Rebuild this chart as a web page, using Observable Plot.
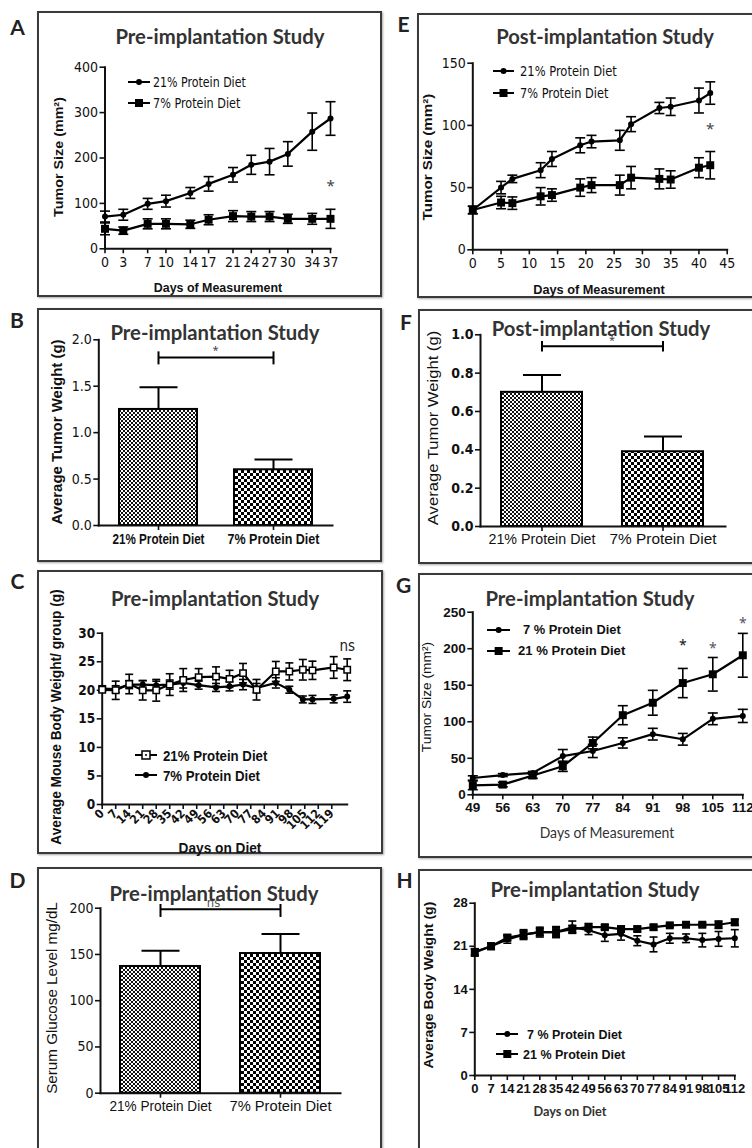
<!DOCTYPE html>
<html><head><meta charset="utf-8">
<script src="https://cdn.jsdelivr.net/npm/d3@7"></script>
<script src="https://cdn.jsdelivr.net/npm/@observablehq/plot@0.6"></script>
<style>
body{margin:0;background:#fff;}
#page{position:relative;width:752px;height:1148px;overflow:hidden;background:#fff;}
.box{position:absolute;border:2px solid #3a3a3a;box-shadow:1px 1px 2px rgba(0,0,0,.35);box-sizing:border-box;}
.t{position:absolute;white-space:nowrap;line-height:1;color:#111;}
svg.plot{position:absolute;overflow:visible;}
</style></head><body>
<svg width="0" height="0" style="position:absolute">
<defs>
<pattern id="fine" width="4" height="4" patternUnits="userSpaceOnUse"><rect width="4" height="4" fill="#fff"/><rect width="2" height="2" fill="#111"/><rect x="2" y="2" width="2" height="2" fill="#111"/></pattern>
<pattern id="coarse" width="6" height="6" patternUnits="userSpaceOnUse"><rect width="6" height="6" fill="#fff"/><rect width="3" height="3" fill="#000"/><rect x="3" y="3" width="3" height="3" fill="#000"/></pattern>
</defs></svg>
<div id="page"></div>
<script>
// ---------------- DATA ----------------
const diets = ["21% Protein Diet", "7% Protein Diet"];
const barPatterns = ["url(#fine)", "url(#coarse)"];

// A: Pre-implantation tumor size
const A_days = [0,3,7,10,14,17,21,24,27,30,34,37];
const A_21 = [71,75,99,105,123,143,163,185,192,209,258,287];
const A_21_err = [12,12,12,13,12,16,16,21,29,27,41,37];
const A_7 = [44,40,55,55,54,64,72,71,71,66,66,66];
const A_7_err = [13,8,11,11,9,11,12,11,11,10,12,21];
const A_yTicks = [0,100,200,300,400];
const A_star = [{x:37, y:139, t:"*"}];

// E: Post-implantation tumor size
const E_days = [0,5,7,12,14,19,21,26,28,33,35,40,42];
const E_21 = [32,50,57,64,73,84,87,88,101,114,115,120,126];
const E_21_err = [3,5,3,6,6,6,5,8,6,4.5,7,10,9];
const E_7 = [32,38,37.5,43,44,50,52,52,58,57,56.5,66,68];
const E_7_err = [3,5,5,7,5,7,6,8,9,8,7,8,11];
const E_yTicks = [0,50,100,150];
const E_xTicks = [0,5,10,15,20,25,30,35,40,45];
const E_star = [{x:42, y:97, t:"*"}];

// B: Pre-implantation tumor weight
const B_mean = [1.25, 0.60];
const B_err = [0.24, 0.11];
const B_yTicks = [0,0.5,1.0,1.5,2.0];
const B_bracket = {y: 1.81, y1: 1.73, y2: 1.87, label: "*"};

// F: Post-implantation tumor weight
const F_mean = [0.70, 0.39];
const F_err = [0.09, 0.08];
const F_yTicks = [0,0.2,0.4,0.6,0.8,1.0];
const F_bracket = {y: 0.94, y1: 0.91, y2: 0.965, label: "*"};

// C: body weight
const C_days = [0,7,14,21,28,35,42,50,59,66,73,80,90,97,104,109,120,127];
const C_21 = [20.1,20.0,21.1,20.0,20.0,21.0,21.8,22.3,22.4,22.0,23.0,20.1,23.3,23.3,23.6,23.5,24.0,23.6];
const C_21_err = [0.3,1.6,1.7,1.7,1.9,1.9,2.0,1.5,1.7,1.5,1.7,1.8,1.75,1.5,1.8,1.6,1.9,1.9];
const C_7 = [20.3,20.2,21.0,21.0,20.9,21.0,21.3,20.9,20.5,20.7,21.0,20.4,21.3,20.1,18.4,18.4,18.5,18.9];
const C_7_err = [0.5,0.6,0.7,0.7,0.7,0.8,0.9,0.7,0.7,0.8,0.9,0.8,0.9,0.6,0.6,0.7,0.7,1.0];
const C_yTicks = [0,5,10,15,20,25,30];
const C_xTicks = [0,7,14,21,28,35,42,49,56,63,70,77,84,91,98,105,112,119];
const C_ns = [{x:127, y:27.8, t:"ns"}];

// G: Pre-implantation tumor size (late)
const G_days = [49,56,63,70,77,84,91,98,105,112];
const G_7 = [23,27,30,53,60,71,83,76,104,108];
const G_7_err = [3,2,2,9,9,7,8,8,8,9];
const G_21 = [13,14,26.5,39,71,109,126,153,165,191];
const G_21_err = [6,3,4,7,8,13,17,20,23,30];
const G_yTicks = [0,50,100,150,200,250];
const G_stars = [{x:98,y:204,t:"*",c:"#111"},{x:105,y:200,t:"*",c:"#556"},{x:112,y:234,t:"*",c:"#556"}];

// D: serum glucose
const D_mean = [137, 151];
const D_err = [17, 21];
const D_yTicks = [0,50,100,150,200];
const D_bracket = {y: 199, y1: 190, y2: 204, label: "ns"};

// H: body weight
const H_days = [0,7,14,21,28,35,42,49,56,63,70,77,84,91,98,105,112];
const H_7 = [20.1,21.0,22.1,22.9,23.3,23.3,24.1,23.6,22.8,23.0,21.9,21.3,22.3,22.3,22.0,22.2,22.3];
const H_7_err = [0.5,0.5,0.6,0.6,0.6,0.7,1.0,0.7,1.0,1.0,0.8,1.2,0.8,0.7,1.1,1.2,1.4];
const H_21 = [20.0,21.0,22.4,22.9,23.3,23.3,23.8,24.1,24.1,23.8,23.8,24.1,24.4,24.5,24.5,24.5,24.9];
const H_21_err = [0.6,0.5,0.5,0.8,0.8,0.9,0.6,0.6,0.4,0.4,0.4,0.4,0.3,0.3,0.3,0.6,0.5];
const H_yTicks = [0,7,14,21,28];

// ---------------- HELPERS ----------------
const NARROW = "'Liberation Sans Narrow','Arial Narrow','DejaVu Sans Condensed',sans-serif";
const ARIAL = "'Liberation Sans',Arial,sans-serif";
const CAL = "Lato,'Open Sans',sans-serif";
const page = document.getElementById("page");

function box(x, y, w, h) {
  const d = document.createElement("div");
  d.className = "box";
  Object.assign(d.style, {left: x + "px", top: y + "px", width: w + "px", height: h + "px"});
  page.appendChild(d);
}
// text centred at (x,y) (or left-aligned at x); tw = target width in px (text is squeezed/stretched to it)
function txt(x, y, s, css, align = "center", rot = false, tw = null) {
  const d = document.createElement("div");
  d.className = "t";
  d.textContent = s;
  Object.assign(d.style, {left: x + "px", top: y + "px"}, css);
  page.appendChild(d);
  let sc = "";
  if (tw) sc = ` scaleX(${(tw / d.offsetWidth).toFixed(4)})`;
  let tf = align === "center" ? "translate(-50%,-50%)" : "translate(0,-50%)";
  if (rot) tf += " rotate(-90deg)";
  d.style.transformOrigin = align === "center" ? "50% 50%" : "0 50%";
  d.style.transform = tf + sc;
}
function mount(L, T, svg) {
  svg.classList.add("plot");
  svg.style.left = L + "px";
  svg.style.top = T + "px";
  page.appendChild(svg);
  return svg;
}
function fitTicks(svg, axis, tw) {
  svg.querySelectorAll(`g[aria-label="${axis}-axis tick label"] text`).forEach(t => {
    t.setAttribute("textLength", tw);
    t.setAttribute("lengthAdjust", "spacingAndGlyphs");
  });
}
const ns = "http://www.w3.org/2000/svg";
function legend(x1, x2, y, tx, label, sym, css, tw) {
  const s = document.createElementNS(ns, "svg");
  const w = x2 - x1;
  s.setAttribute("width", w); s.setAttribute("height", 14);
  s.style.position = "absolute"; s.style.left = x1 + "px"; s.style.top = (y - 7) + "px";
  s.innerHTML = `<line x1="0" x2="${w}" y1="7" y2="7" stroke="#000" stroke-width="2"/>` +
    (sym === "circle" ? `<circle cx="${w/2}" cy="7" r="3" fill="#000"/>` :
     sym === "open" ? `<rect x="${w/2-4}" y="3" width="8" height="8" fill="#fff" stroke="#000" stroke-width="1.5"/><circle cx="${w/2}" cy="7" r="1" fill="#000"/>` :
     `<rect x="${w/2-4}" y="3" width="8" height="8" fill="#000"/>`);
  page.appendChild(s);
  txt(tx, y, label, css, "left", false, tw);
}
const cap = {draw(ctx, size) { const r = Math.sqrt(size / Math.PI); ctx.moveTo(-r, 0); ctx.lineTo(r, 0); }};

function series(xs, ys, es, sym, opt = {}) {
  const data = xs.map((x, i) => ({x, y: ys[i], lo: ys[i] - es[i], hi: ys[i] + es[i]}));
  const capR = opt.capR ?? 5;
  const r = opt.r ?? (sym === "circle" ? 3 : 4.5);
  return [
    Plot.ruleX(data, {x: "x", y1: "lo", y2: "hi", stroke: "#000", strokeWidth: 1.6}),
    Plot.dot(data, {x: "x", y: "lo", symbol: cap, r: capR, stroke: "#000", fill: "none", strokeWidth: 1.6}),
    Plot.dot(data, {x: "x", y: "hi", symbol: cap, r: capR, stroke: "#000", fill: "none", strokeWidth: 1.6}),
    Plot.line(data, {x: "x", y: "y", stroke: "#000", strokeWidth: opt.lw ?? 2.2}),
    opt.open
      ? Plot.dot(data, {x: "x", y: "y", symbol: "square", r, fill: "#fff", stroke: "#000", strokeWidth: 1.5})
      : Plot.dot(data, {x: "x", y: "y", symbol: sym, r, fill: "#000", stroke: "none"})
  ];
}
function axesMarks(o) {
  const xo = {ticks: o.xt, tickSize: 5, tickPadding: o.xPad ?? 3, label: null, fontSize: o.fsX ?? o.fs, fontFamily: o.fontX ?? o.font, fontWeight: o.wX ?? o.w, strokeWidth: 1.6};
  if (o.xfmt) xo.tickFormat = o.xfmt;
  if (o.rot) xo.tickRotate = o.rot;
  return [
    Plot.axisY({ticks: o.yt, tickSize: 5, tickPadding: 2, label: null, tickFormat: o.yfmt ?? (d => d), fontSize: o.fs, fontFamily: o.font, fontWeight: o.w, strokeWidth: 1.6}),
    Plot.axisX(xo),
    Plot.frame({anchor: "left", strokeWidth: 2}),
    Plot.frame({anchor: "bottom", strokeWidth: 2})
  ];
}
function base(L, T, W, H, x0, x1, yTop, yBot) {
  return {width: W, height: H, marginLeft: x0 - L, marginRight: L + W - x1, marginTop: yTop - T, marginBottom: T + H - yBot,
    style: {background: "transparent", color: "#111", overflow: "visible"}};
}
function barMarks(mean, err, br, capR) {
  const data = diets.map((d, i) => ({d, v: mean[i], hi: mean[i] + err[i], p: barPatterns[i]}));
  return [
    Plot.ruleX(data, {x: "d", y1: "v", y2: "hi", stroke: "#000", strokeWidth: 2}),
    Plot.dot(data, {x: "d", y: "hi", symbol: cap, r: capR, stroke: "#000", fill: "none", strokeWidth: 2}),
    Plot.barY(data, {x: "d", y: "v", fill: d => d.p, stroke: "#000", strokeWidth: 2}),
    Plot.link([br], {x1: () => diets[0], x2: () => diets[1], y1: "y", y2: "y", stroke: "#000", strokeWidth: 2}),
    Plot.ruleX([br, br], {x: (d, i) => diets[i], y1: "y1", y2: "y2", stroke: "#000", strokeWidth: 2})
  ];
}

// ---------------- PANEL BOXES & LETTERS ----------------
box(37, 11, 345, 286);
box(417, 13, 360, 285);
box(37, 308, 345, 254);
box(418, 309, 360, 255);
box(37, 570, 346, 284);
box(418, 573, 360, 285);
box(37, 867, 345, 300);
box(418, 869, 360, 300);
const letterCss = {fontFamily: CAL, fontWeight: 700, fontSize: "21px", color: "#222"};
txt(17.5, 26, "A", letterCss); txt(403.5, 23, "E", letterCss);
txt(17, 319, "B", letterCss); txt(406, 321, "F", letterCss);
txt(17.5, 580, "C", letterCss); txt(403.5, 584, "G", letterCss);
txt(17.5, 879, "D", letterCss); txt(404.5, 879, "H", letterCss);

const titleCss = {fontFamily: CAL, fontWeight: 700, fontSize: "20px", color: "#333"};

// ---------------- PANEL A ----------------
{
  const o = base(37, 11, 345, 286, 104.5, 330, 66.7, 248.3);
  mount(37, 11, Plot.plot({...o,
    x: {domain: [0, 37]}, y: {domain: [0, 400]},
    marks: [
      ...axesMarks({xt: A_days, yt: A_yTicks, fs: 14, font: NARROW, w: 400}),
      ...series(A_days, A_7, A_7_err, "square"),
      ...series(A_days, A_21, A_21_err, "circle"),
      Plot.text(A_star, {x: "x", y: "y", text: "t", fontSize: 15, fill: "#444"})
    ]}));
  txt(220, 36, "Pre-implantation Study", titleCss, "center", false, 209);
  txt(58, 157, "Tumor Size (mm²)", {fontFamily: ARIAL, fontWeight: 700, fontSize: "13px"}, "center", true, 120);
  txt(218, 287, "Days of Measurement", {fontFamily: ARIAL, fontWeight: 700, fontSize: "13px"}, "center", false, 128);
  const lc = {fontFamily: NARROW, fontSize: "14.5px"};
  legend(128, 150, 82, 153, "21% Protein Diet", "circle", lc, 93);
  legend(128, 150, 103, 153, "7% Protein Diet", "square", lc, 87);
}
// ---------------- PANEL E ----------------
{
  const o = base(417, 13, 335, 285, 472.3, 726.7, 62.7, 249.3);
  mount(417, 13, Plot.plot({...o,
    x: {domain: [0, 45]}, y: {domain: [0, 150]},
    marks: [
      ...axesMarks({xt: E_xTicks, yt: E_yTicks, fs: 14, font: NARROW, w: 400}),
      ...series(E_days, E_7, E_7_err, "square"),
      ...series(E_days, E_21, E_21_err, "circle"),
      Plot.text(E_star, {x: "x", y: "y", text: "t", fontSize: 15, fill: "#444"})
    ]}));
  txt(605, 36, "Post-implantation Study", titleCss, "center", false, 218);
  txt(426.7, 157, "Tumor Size (mm²)", {fontFamily: ARIAL, fontWeight: 700, fontSize: "13px"}, "center", true, 127);
  txt(599, 290, "Days of Measurement", {fontFamily: ARIAL, fontWeight: 700, fontSize: "13.5px"}, "center", false, 132);
  const lc = {fontFamily: NARROW, fontSize: "14.5px"};
  legend(493, 514, 71, 520, "21% Protein Diet", "circle", lc, 97);
  legend(493, 514, 92.7, 520, "7% Protein Diet", "square", lc, 88);
}
// ---------------- PANEL B ----------------
{
  const o = base(37, 308, 345, 254, 98.3, 332, 339.3, 525);
  const svg = mount(37, 308, Plot.plot({...o,
    x: {domain: diets, paddingInner: 0.32, paddingOuter: 0.17}, y: {domain: [0, 2]},
    marks: [
      ...barMarks(B_mean, B_err, B_bracket, 19),
      ...axesMarks({yt: B_yTicks, yfmt: d3.format(".1f"), fs: 14, font: NARROW, w: 400, fontX: ARIAL, wX: 700, fsX: 14.5}),
      Plot.text([B_bracket], {frameAnchor: "middle", y: "y", text: "label", dy: -7, fontSize: 11, fill: "#444"})
    ]}));
  fitTicks(svg, "x", 92);
  txt(214.7, 332, "Pre-implantation Study", titleCss, "center", false, 209);
  txt(56.7, 431.7, "Average Tumor Weight (g)", {fontFamily: ARIAL, fontWeight: 700, fontSize: "14px"}, "center", true, 185);
}
// ---------------- PANEL F ----------------
{
  const o = base(418, 309, 334, 255, 480, 725, 334.3, 526);
  const svg = mount(418, 309, Plot.plot({...o,
    x: {domain: diets, paddingInner: 0.33, paddingOuter: 0.17}, y: {domain: [0, 1]},
    marks: [
      ...barMarks(F_mean, F_err, F_bracket, 19),
      ...axesMarks({yt: F_yTicks, yfmt: d3.format(".1f"), fs: 14, font: NARROW, w: 700, fontX: ARIAL, wX: 400}),
      Plot.text([F_bracket], {frameAnchor: "middle", y: "y", text: "label", dx: 9, dy: -6, fontSize: 11, fill: "#444"})
    ]}));
  fitTicks(svg, "x", 107);
  txt(600.5, 328, "Post-implantation Study", titleCss, "center", false, 219);
  txt(431.7, 428, "Average Tumor Weight (g)", {fontFamily: ARIAL, fontSize: "15px"}, "center", true, 194);
}
// ---------------- PANEL C ----------------
{
  const o = base(37, 570, 346, 284, 101.7, 346.7, 632.7, 804);
  mount(37, 570, Plot.plot({...o,
    x: {domain: [0, 127]}, y: {domain: [0, 30]},
    marks: [
      ...axesMarks({xt: C_xTicks, yt: C_yTicks, fs: 13.5, font: NARROW, w: 700, rot: -45, fsX: 12, xPad: 2}),
      ...series(C_days, C_7, C_7_err, "circle", {capR: 4}),
      ...series(C_days, C_21, C_21_err, "square", {open: true, r: 3.6, capR: 4}),
      Plot.text(C_ns, {x: "x", y: "y", text: "t", fontSize: 15, fontFamily: NARROW, fill: "#222"})
    ]}));
  txt(215, 598, "Pre-implantation Study", titleCss, "center", false, 208);
  txt(56, 716.7, "Average Mouse Body Weight/ group (g)", {fontFamily: ARIAL, fontWeight: 700, fontSize: "14px"}, "center", true, 255);
  txt(220, 848, "Days on Diet", {fontFamily: ARIAL, fontWeight: 700, fontSize: "14px"}, "center", false, 83);
  const lc = {fontFamily: ARIAL, fontWeight: 700, fontSize: "15px"};
  legend(135, 157, 755, 163.3, "21% Protein Diet", "open", lc, 104);
  legend(135, 157, 775, 163.3, "7% Protein Diet", "circle", lc, 97);
}
// ---------------- PANEL G ----------------
{
  const o = base(418, 573, 334, 285, 472.3, 742.3, 611.7, 794.3);
  mount(418, 573, Plot.plot({...o,
    x: {domain: [49, 112]}, y: {domain: [0, 250]},
    marks: [
      ...axesMarks({xt: G_days, yt: G_yTicks, fs: 13.5, font: ARIAL, w: 700}),
      ...series(G_days, G_7, G_7_err, "circle", {capR: 5}),
      ...series(G_days, G_21, G_21_err, "square", {capR: 5}),
      Plot.text(G_stars, {x: "x", y: "y", text: "t", fill: "c", fontSize: 14})
    ]}));
  txt(590, 598, "Pre-implantation Study", titleCss, "center", false, 209);
  txt(426.7, 696.7, "Tumor Size (mm²)", {fontFamily: ARIAL, fontSize: "13.5px"}, "center", true, 110);
  txt(606.7, 833, "Days of Measurement", {fontFamily: CAL, fontSize: "14.5px", color: "#333"}, "center", false, 135);
  const lc = {fontFamily: ARIAL, fontWeight: 700, fontSize: "13.5px"};
  legend(486.7, 510, 630, 523.3, "7 % Protein Diet", "circle", lc, 98);
  legend(486.7, 510, 650.7, 517.7, "21 % Protein Diet", "square", lc, 107);
}
// ---------------- PANEL D ----------------
{
  const o = base(37, 867, 345, 281, 100, 340, 907.7, 1092.7);
  const svg = mount(37, 867, Plot.plot({...o,
    x: {domain: diets, paddingInner: 0.33, paddingOuter: 0.165}, y: {domain: [0, 200]},
    marks: [
      ...barMarks(D_mean, D_err, D_bracket, 19),
      ...axesMarks({yt: D_yTicks, fs: 14, font: NARROW, w: 400, fontX: ARIAL, wX: 400}),
      Plot.text([D_bracket], {frameAnchor: "middle", y: "y", text: "label", dx: -7, dy: -6, fontSize: 13, fontFamily: NARROW, fill: "#555"})
    ]}));
  fitTicks(svg, "x", 102);
  txt(214, 893, "Pre-implantation Study", titleCss, "center", false, 209);
  txt(51.7, 998, "Serum Glucose Level mg/dL", {fontFamily: ARIAL, fontSize: "14px"}, "center", true, 192);
}
// ---------------- PANEL H ----------------
{
  const o = base(418, 869, 334, 279, 474.3, 734.3, 902.7, 1075);
  mount(418, 869, Plot.plot({...o,
    x: {domain: [0, 112]}, y: {domain: [0, 28]},
    marks: [
      ...axesMarks({xt: H_days, yt: H_yTicks, fs: 13, font: ARIAL, w: 700}),
      ...series(H_days, H_7, H_7_err, "circle", {capR: 4}),
      ...series(H_days, H_21, H_21_err, "square", {capR: 4})
    ]}));
  txt(595, 889, "Pre-implantation Study", titleCss, "center", false, 209);
  txt(428.3, 985, "Average Body Weight (g)", {fontFamily: ARIAL, fontWeight: 700, fontSize: "13px"}, "center", true, 167);
  txt(570, 1111, "Days on Diet", {fontFamily: CAL, fontWeight: 700, fontSize: "14px", color: "#333"}, "center", false, 73);
  const lc = {fontFamily: ARIAL, fontWeight: 700, fontSize: "13px"};
  legend(495.7, 518.3, 1034.3, 526.7, "7 % Protein Diet", "circle", lc, 95);
  legend(495.7, 518.3, 1054.3, 523.3, "21 % Protein Diet", "square", lc, 102);
}
</script>
</body></html>
